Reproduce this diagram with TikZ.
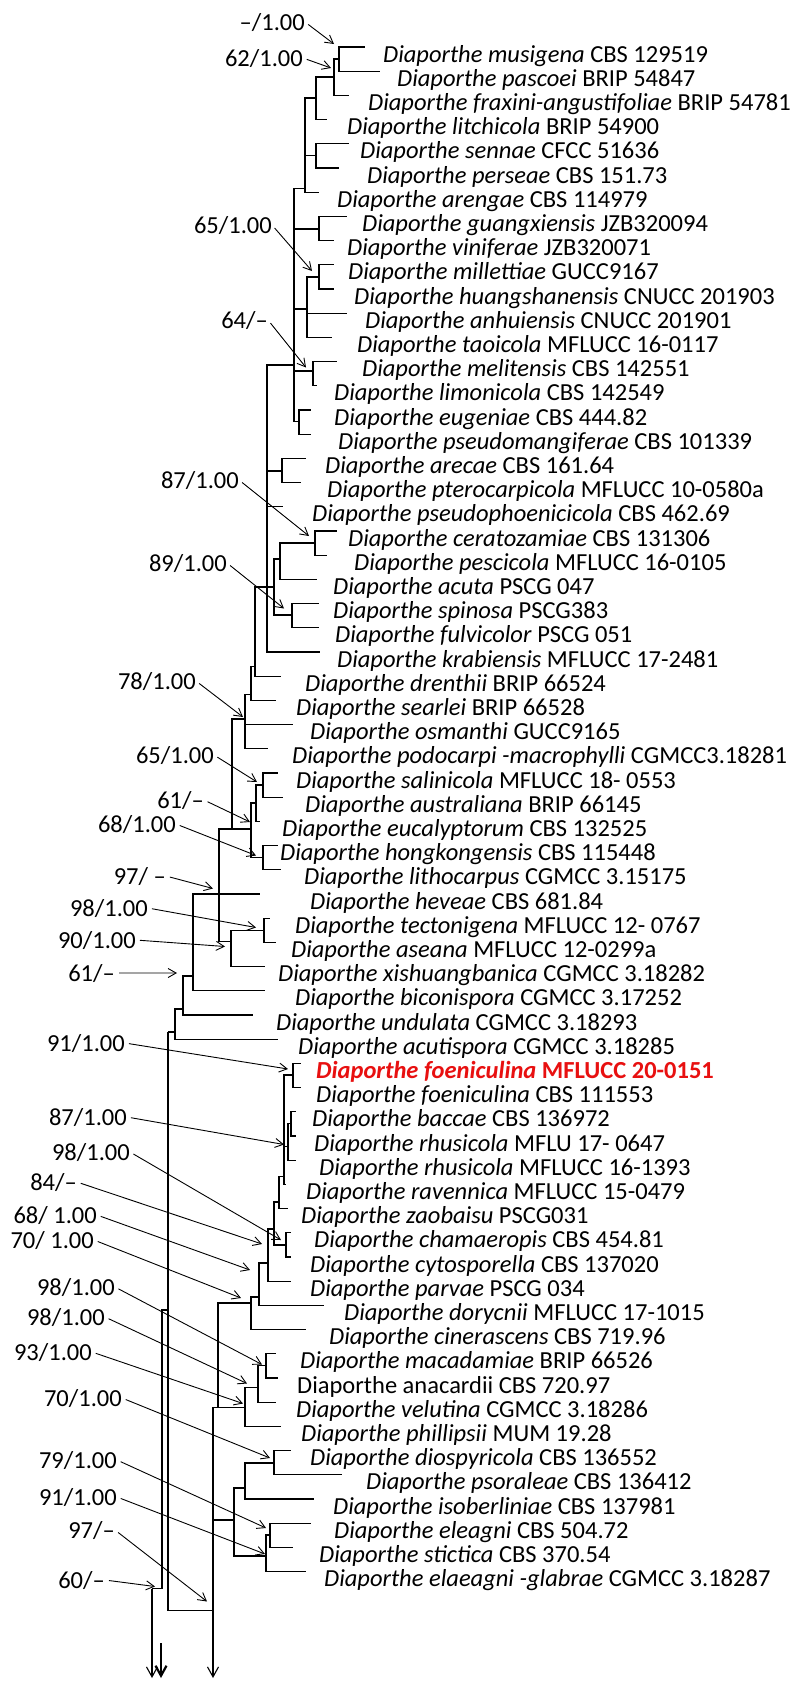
\documentclass[tikz,border=0pt]{standalone}
\usepackage{fontspec}
\setmainfont{Carlito}
\usetikzlibrary{arrows.meta}
\definecolor{hilite}{RGB}{232,16,16}
\newcommand{\clade}[2]{\foreach \c in {#2}{\draw[br] (#1) |- (\c);}}

\begin{document}
\begin{tikzpicture}[x=1pt,y=-1pt,font=\fontsize{24.5}{29}\selectfont,
  br/.style={line width=1.1pt},
  root/.style={line width=1.1pt,-{Straight Barb[length=10pt,width=11pt]}},
  sarr/.style={line width=0.9pt,-{Straight Barb[length=8pt,width=9pt]},shorten <=4pt},
  taxon/.style={anchor=base west,inner sep=0pt},
  supl/.style={anchor=base east,inner sep=0pt}]
  \fill[white] (0,0) rectangle (800,1681);
  \useasboundingbox (0,0) rectangle (800,1681);
  % tips and taxon names
  \foreach \i/\tipx/\labx/\spec/\strn in {1/365/383/musigena/CBS 129519,
    2/380/397/pascoei/BRIP 54847, 3/349/368/fraxini-angustifoliae/BRIP 54781,
    4/327/347/litchicola/BRIP 54900, 5/349/360/sennae/CFCC 51636,
    6/339/367/perseae/CBS 151.73, 7/319/337/arengae/CBS 114979,
    8/347/362/guangxiensis/JZB320094, 9/334/347/viniferae/JZB320071,
    10/334/348/millettiae/GUCC9167, 11/334/354/huangshanensis/CNUCC 201903,
    12/347/365/anhuiensis/CNUCC 201901, 13/332/357/taoicola/MFLUCC 16-0117,
    14/337/362/melitensis/CBS 142551, 15/317/334/limonicola/CBS 142549,
    16/311/334/eugeniae/CBS 444.82, 17/311/338/pseudomangiferae/CBS 101339,
    18/306/325/arecae/CBS 161.64, 19/301/327/pterocarpicola/MFLUCC 10-0580a,
    20/283/312/pseudophoenicicola/CBS 462.69, 21/337/348/ceratozamiae/CBS 131306,
    22/327/354/pescicola/MFLUCC 16-0105, 23/317/333/acuta/PSCG 047,
    24/319/333/spinosa/PSCG383, 25/319/335/fulvicolor/PSCG 051,
    26/320/337/krabiensis/MFLUCC 17-2481, 27/281/305/drenthii/BRIP 66524,
    28/276/296/searlei/BRIP 66528, 29/293/310/osmanthi/GUCC9165,
    30/268/292/podocarpi -macrophylli/CGMCC3.18281, 31/278/296/salinicola/MFLUCC 18- 0553,
    32/283/305/australiana/BRIP 66145, 33/260/282/eucalyptorum/CBS 132525,
    34/278/280/hongkongensis/CBS 115448, 35/281/304/lithocarpus/CGMCC 3.15175,
    36/260/310/heveae/CBS 681.84, 37/270/295/tectonigena/MFLUCC 12- 0767,
    38/276/291/aseana/MFLUCC 12-0299a, 39/265/278/xishuangbanica/CGMCC 3.18282,
    40/265/295/biconispora/CGMCC 3.17252, 41/253/276/undulata/CGMCC 3.18293,
    42/278/298/acutispora/CGMCC 3.18285, 44/301/316/foeniculina/CBS 111553,
    45/296/312/baccae/CBS 136972, 46/296/314/rhusicola/MFLU 17- 0647,
    47/296/319/rhusicola/MFLUCC 16-1393, 48/286/306/ravennica/MFLUCC 15-0479,
    49/288/301/zaobaisu/PSCG031, 50/291/314/chamaeropis/CBS 454.81,
    51/291/310/cytosporella/CBS 137020, 52/291/310/parvae/PSCG 034,
    53/324/344/dorycnii/MFLUCC 17-1015, 54/306/329/cinerascens/CBS 719.96,
    55/276/300/macadamiae/BRIP 66526, 57/276/296/velutina/CGMCC 3.18286,
    58/281/301/phillipsii/MUM 19.28, 59/291/310/diospyricola/CBS 136552,
    60/342/366/psoraleae/CBS 136412, 61/314/333/isoberliniae/CBS 137981,
    62/311/334/eleagni/CBS 504.72, 63/293/319/stictica/CBS 370.54,
    64/306/324/elaeagni -glabrae/CGMCC 3.18287}{
    \pgfmathsetmacro\yy{47+24.2*(\i-1)}
    \coordinate (t\i) at (\tipx,\yy);
    \node[taxon] (l\i) at (\labx,\yy+15) {\textit{Diaporthe \spec} \strn};
  }
  \coordinate (t43) at (301,1063.4);
  \node[taxon,text=hilite] (l43) at (316,1078.4) {\bfseries\textit{Diaporthe foeniculina} MFLUCC 20-0151};
  \coordinate (t56) at (278,1378);
  \node[taxon] (l56) at (297,1393) {Diaporthe anacardii CBS 720.97};
  % upper clade
  \coordinate (n12) at (339,59); \clade{n12}{t1,t2}
  \coordinate (n123) at (334,77); \clade{n123}{n12,t3}
  \coordinate (n1234) at (316,98); \clade{n1234}{n123,t4}
  \coordinate (n56) at (316,155.5); \clade{n56}{t5,t6}
  \coordinate (n17) at (305,188.5); \clade{n17}{n1234,n56,t7}
  \coordinate (n89) at (319,229); \clade{n89}{t8,t9}
  \coordinate (n1011) at (319,277); \clade{n1011}{t10,t11}
  \coordinate (n1013) at (307,309); \clade{n1013}{n1011,t12,t13}
  \coordinate (n1415) at (313,371); \clade{n1415}{t14,t15}
  \coordinate (n1617) at (299,421.5); \clade{n1617}{t16,t17}
  \coordinate (nU) at (294,365); \clade{nU}{n17,n89,n1013,n1415,n1617}
  \coordinate (n1819) at (282,471); \clade{n1819}{t18,t19}
  \coordinate (n2122) at (315,543); \clade{n2122}{t21,t22}
  \coordinate (nQ1) at (280,559); \clade{nQ1}{n2122,t23}
  \coordinate (n2425) at (292,615); \clade{n2425}{t24,t25}
  \coordinate (nQ) at (274,587); \clade{nQ}{nQ1,n2425}
  \coordinate (nS) at (267,587); \clade{nS}{nU,n1819,t20,nQ,t26}
  \coordinate (nL1) at (255,666.5); \clade{nL1}{nS,t27}
  \coordinate (nL2) at (251,694.5); \clade{nL2}{nL1,t28}
  \coordinate (nL3) at (245,719); \clade{nL3}{nL2,t29,t30}
  \coordinate (n3132) at (263,785); \clade{n3132}{t31,t32}
  \coordinate (nM1) at (256,803); \clade{nM1}{n3132,t33}
  \coordinate (n3435) at (263,857.5); \clade{n3435}{t34,t35}
  \coordinate (nM) at (251,829); \clade{nM}{nM1,n3435}
  \coordinate (nL4) at (232,829); \clade{nL4}{nL3,nM}
  \coordinate (n3738) at (264,930.5); \clade{n3738}{t37,t38}
  \coordinate (nT) at (231,941.5); \clade{nT}{n3738,t39}
  \coordinate (nH) at (219,894); \clade{nH}{nL4,t36,nT}
  \coordinate (nB) at (193,976); \clade{nB}{nH,t40}
  \coordinate (nUd) at (183,1009); \clade{nUd}{nB,t41}
  \coordinate (nA) at (175,1032); \clade{nA}{nUd,t42}
  % lower clade
  \coordinate (n4344) at (293,1075); \clade{n4344}{t43,t44}
  \coordinate (n4546) at (291,1123.5); \clade{n4546}{t45,t46}
  \coordinate (n4547) at (288,1146.5); \clade{n4547}{n4546,t47}
  \coordinate (nF) at (284,1176.5); \clade{nF}{n4344,n4547,t48}
  \coordinate (n49) at (279,1202); \clade{n49}{nF,t49}
  \coordinate (n5051) at (286,1245); \clade{n5051}{t50,t51}
  \coordinate (n4951) at (274,1229); \clade{n4951}{n49,n5051}
  \coordinate (n52) at (268,1263); \clade{n52}{n4951,t52}
  \coordinate (n53) at (259,1297); \clade{n53}{n52,t53}
  \coordinate (n54) at (251,1303); \clade{n54}{n53,t54}
  \coordinate (n5556) at (266,1365.5); \clade{n5556}{t55,t56}
  \coordinate (n557) at (258,1387.5); \clade{n557}{n5556,t57}
  \coordinate (n558) at (245,1407.5); \clade{n558}{n557,t58}
  \coordinate (nLo1) at (218,1407.5); \clade{nLo1}{n54,n558}
  \coordinate (n5960) at (274,1463); \clade{n5960}{t59,t60}
  \coordinate (n61) at (245,1488); \clade{n61}{n5960,t61}
  \coordinate (n6263) at (270,1535); \clade{n6263}{t62,t63}
  \coordinate (n6264) at (266,1556); \clade{n6264}{n6263,t64}
  \coordinate (n5964) at (234,1520); \clade{n5964}{n61,n6264}
  \coordinate (nLo2) at (213,1610.5); \clade{nLo2}{nLo1,n5964}
  % root part, cut off at the bottom
  \coordinate (nR) at (168,1032); \draw[br] (nR) -- (nA);
  \draw[br] (nR) |- (nLo2);
  \coordinate (nR2) at (168,1310); \coordinate (nP) at (162,1588.5);
  \draw[br] (nP) |- (nR2);
  \coordinate (nP0) at (152,1588.5); \coordinate (e1) at (152,1678);
  \draw[br] (nP) -- (nP0); \draw[root] (nP0) -- (e1);
  \coordinate (e2a) at (161,1643); \coordinate (e2) at (161,1678);
  \draw[root,line width=2.2pt] (e2a) -- (e2);
  \coordinate (e3) at (213,1678); \draw[root] (nLo2) -- (e3);
  % support values
  \foreach \n/\rx/\ry/\ax/\ay/\mlv/\biv in {1/305/22/334/44/–/1.00,
    2/303/58/331/68/62/1.00, 3/272/225/312/271/65/1.00, 4/268/320/306/367.5/64/–,
    5/239/480/309/536/87/1.00, 6/227/563/284/608.5/89/1.00, 7/196/681/243/717/78/1.00,
    8/214/755/257/782/65/1.00, 9/204/800/250/822/61/–, 10/176/824/256/855.5/68/1.00,
    11/166/876/213/888.5/97/\ –, 12/148/908/256/927.5/98/1.00, 13/136/940/225/946.5/90/1.00,
    14/115/973/177/973/61/–, 15/125/1043/288/1069/91/1.00, 16/127/1117/284/1144.5/87/1.00,
    17/130/1152/281/1240/98/1.00, 18/77/1182/262/1244/84/–, 19/97/1215/250/1270/68/\ 1.00,
    20/94/1240/241/1298/70/\ 1.00, 21/115/1287/262/1364.5/98/1.00, 22/105/1317/247/1383.5/98/1.00,
    23/92/1352/243/1403.5/93/1.00, 24/122/1398/270/1458/70/1.00, 25/117/1460/266/1528/79/1.00,
    26/117/1497/265/1554/91/1.00, 27/115/1530/207/1601.5/97/–, 28/105/1580/155/1586.5/60/–}{
    \node[supl] (s\n) at (\rx,\ry+8) {\mlv/\biv};
    \coordinate (a\n) at (\ax,\ay);
    \draw[sarr] (s\n.east) -- (a\n);
  }
\end{tikzpicture}
\end{document}
